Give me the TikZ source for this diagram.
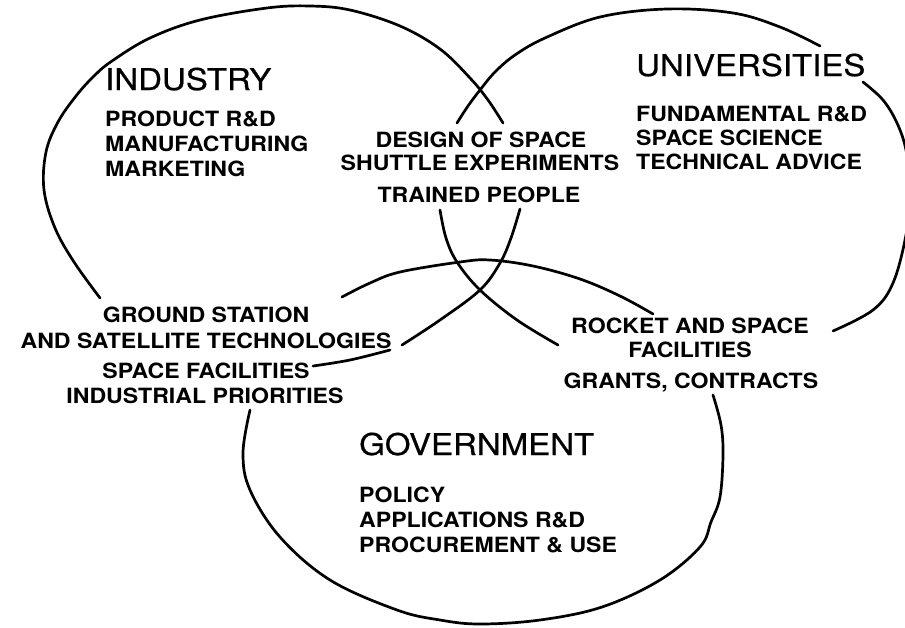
\documentclass[tikz,border=0pt]{standalone}
\usepackage{fontspec}
\newfontfamily\headfont{TeX Gyre Heros}[FakeStretch=1.10,FakeBold=0.6]
\newfontfamily\itemfont{TeX Gyre Heros}[FakeStretch=1.10]
\begin{document}
\begin{tikzpicture}[x=1pt,y=-1pt,
  ring/.style={line width=2.7pt, line cap=round, line join=round},
  head/.style={inner sep=0pt, anchor=base west,
    font=\headfont\fontsize{30}{30}\selectfont},
  item/.style={inner sep=0pt, anchor=base west,
    font=\itemfont\bfseries\fontsize{21}{21}\selectfont},
  shared/.style={inner sep=0pt, anchor=base,
    font=\itemfont\bfseries\fontsize{21}{21}\selectfont}]
\useasboundingbox (0,0) rectangle (905,627);
\clip (0,0) rectangle (905,627);

% ---------- Industry ring (broken where the labels sit)
\draw[ring] plot[smooth, tension=0.6] coordinates {
  (100,298) (74,262) (55,228) (44,190) (46,152) (58,122) (76,96) (94,76)
  (112,61) (150,38) (200,20) (267,8) (310,6) (350,10) (400,26) (440,49)
  (470,78) (488,100) (503,123)};
\draw[ring] plot[smooth, tension=0.6] coordinates {
  (520,209) (511,238) (500,263) (480,290) (440,320) (402,345)};
\draw[ring] plot[smooth, tension=0.6] coordinates {
  (390,350) (350,360) (313,366)};

% ---------- Universities ring
\draw[ring] plot[smooth, tension=0.6] coordinates {
  (457,123) (468,106) (480,90) (495,72) (515,55) (545,38) (600,17)
  (667,9) (733,13) (780,27) (820,46)};
\draw[ring] plot[smooth, tension=0.6] coordinates {
  (863,82) (883,100) (897,123) (906,150) (911,190) (906,235) (893,283)
  (873,310) (833,331)};
\draw[ring] plot[smooth, tension=0.6] coordinates {
  (440,210) (446,238) (457,262) (480,290) (517,320) (558,345)};

% ---------- Government ring
\draw[ring] plot[smooth, tension=0.6] coordinates {
  (342,297) (370,283) (400,272) (460,262) (490,260) (533,266) (580,279)
  (620,296) (653,314)};
\draw[ring] plot[smooth, tension=0.6] coordinates {
  (713,395) (721,425) (723,455) (720,497) (711,522) (700,547) (660,580)
  (602,607) (540,620) (480,624) (440,620) (397,610) (330,580) (280,537)
  (250,490) (243,453) (250,410)};

% ---------- Industry
\node[head] (ind)  at (105,90)  {INDUSTRY};
\node[item] (ind1) at (105,126) {PRODUCT R\&D};
\node[item] (ind2) at (105,151) {MANUFACTURING};
\node[item] (ind3) at (105,176) {MARKETING};

% ---------- Universities
\node[head] (uni)  at (636,76)  {UNIVERSITIES};
\node[item] (uni1) at (636,121) {FUNDAMENTAL R\&D};
\node[item] (uni2) at (636,145) {SPACE SCIENCE};
\node[item] (uni3) at (636,169) {TECHNICAL ADVICE};

% ---------- Government
\node[head] (gov)  at (359,455) {GOVERNMENT};
\node[item] (gov1) at (359,502) {POLICY};
\node[item] (gov2) at (359,527) {APPLICATIONS R\&D};
\node[item] (gov3) at (359,552) {PROCUREMENT \& USE};

% ---------- Industry / Universities
\node[shared] (iu1) at (481,147) {DESIGN OF SPACE};
\node[shared] (iu2) at (480,170) {SHUTTLE EXPERIMENTS};
\node[shared] (iu3) at (479,202) {TRAINED PEOPLE};

% ---------- Industry / Government
\node[shared] (ig1) at (206,322) {GROUND STATION};
\node[shared] (ig2) at (206,348) {AND SATELLITE TECHNOLOGIES};
\node[shared] (ig3) at (206,378) {SPACE FACILITIES};
\node[shared] (ig4) at (205,403) {INDUSTRIAL PRIORITIES};

% ---------- Universities / Government
\node[shared] (ug1) at (690,333) {ROCKET AND SPACE};
\node[shared] (ug2) at (690,357) {FACILITIES};
\node[shared] (ug3) at (691,388) {GRANTS, CONTRACTS};
\end{tikzpicture}
\end{document}
